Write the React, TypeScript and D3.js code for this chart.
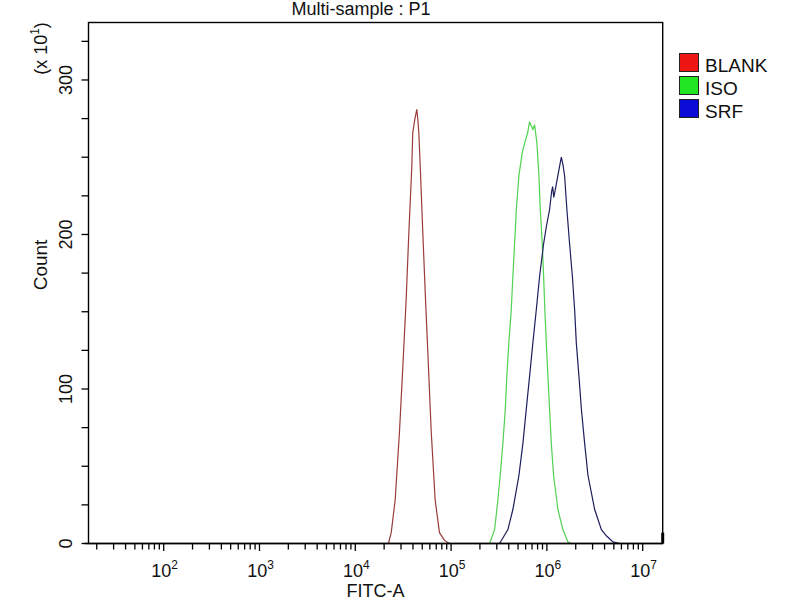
import React from "react";
import * as d3 from "d3";

// ---- Data ----
// x positions are log10(FITC-A) values, counts are in units of x10^1
const blankLog = [4.346, 4.375, 4.416, 4.461, 4.496, 4.531, 4.559, 4.590, 4.600, 4.620, 4.642, 4.652, 4.663, 4.678, 4.705, 4.733, 4.764, 4.793, 4.834, 4.879, 4.931, 4.984];
const blankCount = [0, 7, 28, 72, 114, 158, 201, 244, 266, 274, 281, 275, 266, 244, 201, 158, 114, 72, 28, 7, 2, 0];

const isoLog = [5.402, 5.454, 5.478, 5.513, 5.541, 5.566, 5.582, 5.603, 5.628, 5.645, 5.663, 5.681, 5.708, 5.740, 5.767, 5.800, 5.819, 5.830, 5.840, 5.855, 5.872, 5.896, 5.917, 5.931, 5.952, 5.966, 5.979, 5.994, 6.011, 6.028, 6.046, 6.070, 6.115, 6.167, 6.220, 6.258];
const isoCount = [0, 9, 22, 44, 65, 87, 108, 130, 151, 173, 194, 216, 238, 252, 259, 266, 273, 271, 270, 268, 271, 259, 238, 216, 194, 173, 151, 130, 108, 87, 65, 44, 22, 9, 1, 0];

const srfLog = [5.506, 5.593, 5.645, 5.708, 5.750, 5.785, 5.819, 5.854, 5.889, 5.924, 5.966, 5.994, 6.028, 6.050, 6.060, 6.072, 6.091, 6.126, 6.151, 6.168, 6.185, 6.209, 6.237, 6.266, 6.290, 6.307, 6.335, 6.360, 6.394, 6.429, 6.499, 6.569, 6.621, 6.690, 6.760];
const srfCount = [0, 9, 22, 44, 65, 87, 108, 130, 151, 173, 194, 205, 216, 228, 231, 224, 230, 242, 250, 245, 238, 216, 194, 173, 151, 130, 108, 87, 65, 44, 22, 9, 5, 1, 0];

const offscaleCount = 7; // events piled at the top end of the axis

const seriesNames = ["BLANK", "ISO", "SRF"];
const seriesLineColors = ["#9a3c3c", "#4fd24f", "#1e1e5e"];
const legendColors = ["#ee1515", "#22e622", "#0c0cd8"];

const xDecadeExps = [2, 3, 4, 5, 6, 7];
const yTickValues = [0, 25, 50, 75, 100, 125, 150, 175, 200, 225, 250, 275, 300, 325];
const yLabelValues = [0, 100, 200, 300];

const FONT = "'Liberation Sans', Arial, Helvetica, sans-serif";

export default function App() {
  const left = 88.5, right = 662.7, top = 22.5, bottom = 543.5;
  const x = d3.scaleLog().domain([Math.pow(10, 1.215), Math.pow(10, 7.209)]).range([left, right]);
  const y = d3.scaleLinear().domain([0, 337.2]).range([bottom, top]);

  const line = d3
    .line<[number, number]>()
    .x((d) => x(Math.pow(10, d[0])))
    .y((d) => y(d[1]))
    .curve(d3.curveLinear);

  const series = [
    d3.zip(blankLog, blankCount) as [number, number][],
    d3.zip(isoLog, isoCount) as [number, number][],
    d3.zip(srfLog, srfCount) as [number, number][],
  ];

  // minor ticks
  const [d0, d1] = x.domain();
  const minor: number[] = [];
  for (let e = 1; e <= 7; e++) {
    for (let k = 2; k <= 9; k++) {
      const v = k * Math.pow(10, e);
      if (v >= d0 && v <= d1) minor.push(v);
    }
  }

  return (
    <svg
      width={800}
      height={600}
      style={{ position: "absolute", left: 0, top: 0, background: "#fff" }}
      fontFamily={FONT}
    >
      <rect x={0} y={0} width={800} height={600} fill="#fff" />
      {/* title */}
      <text x={361} y={15} textAnchor="middle" fontSize={18} fill="#111">
        Multi-sample : P1
      </text>

      {/* curves */}
      <g fill="none" strokeWidth={1.2}>
        {series.map((s, i) => (
          <path key={i} d={line(s) || ""} stroke={seriesLineColors[i]} />
        ))}
      </g>

      {/* frame */}
      <rect x={left} y={top} width={right - left} height={bottom - top} fill="none" stroke="#000" strokeWidth={1.4} />
      <line x1={right} x2={right} y1={y(0)} y2={y(offscaleCount)} stroke="#000" strokeWidth={3} />

      {/* y ticks */}
      <g stroke="#000" strokeWidth={1.3}>
        {yTickValues.map((v) => (
          <line key={v} x1={left - 7} x2={left} y1={y(v)} y2={y(v)} />
        ))}
      </g>
      {yLabelValues.map((v) => (
        <text
          key={v}
          transform={`translate(71.5,${y(v)}) rotate(-90)`}
          textAnchor="middle"
          fontSize={18}
          fill="#111"
        >
          {v}
        </text>
      ))}
      <text transform={`translate(46.5,48.5) rotate(-90)`} textAnchor="middle" fontSize={18} fill="#111">
        (x 10<tspan fontSize={12} dy={-8}>1</tspan>
        <tspan dy={8}>)</tspan>
      </text>
      <text transform={`translate(46.5,265) rotate(-90)`} textAnchor="middle" fontSize={19} fill="#111">
        Count
      </text>

      {/* x axis */}
      <line x1={left - 4} x2={right} y1={bottom} y2={bottom} stroke="#000" strokeWidth={1.6} />
      <g stroke="#000" strokeWidth={1.3}>
        {minor.map((v) => (
          <line key={v} x1={x(v)} x2={x(v)} y1={bottom} y2={bottom + 6} />
        ))}
        {xDecadeExps.map((e) => (
          <line key={e} x1={x(Math.pow(10, e))} x2={x(Math.pow(10, e))} y1={bottom} y2={bottom + 7.5} />
        ))}
      </g>
      {xDecadeExps.map((e) => (
        <text key={e} x={x(Math.pow(10, e)) + 1} y={577} textAnchor="middle" fontSize={18} fill="#111">
          10<tspan fontSize={12} dy={-8}>{e}</tspan>
        </text>
      ))}
      <text x={(left + right) / 2} y={597} textAnchor="middle" fontSize={18} fill="#111">
        FITC-A
      </text>

      {/* legend */}
      {seriesNames.map((n, i) => (
        <g key={n}>
          <rect x={679.5} y={53.5 + i * 23} width={19} height={18} fill={legendColors[i]} stroke="#222" strokeWidth={1} />
          <text x={705} y={71.5 + i * 23} fontSize={19} fill="#111">
            {n}
          </text>
        </g>
      ))}
    </svg>
  );
}
